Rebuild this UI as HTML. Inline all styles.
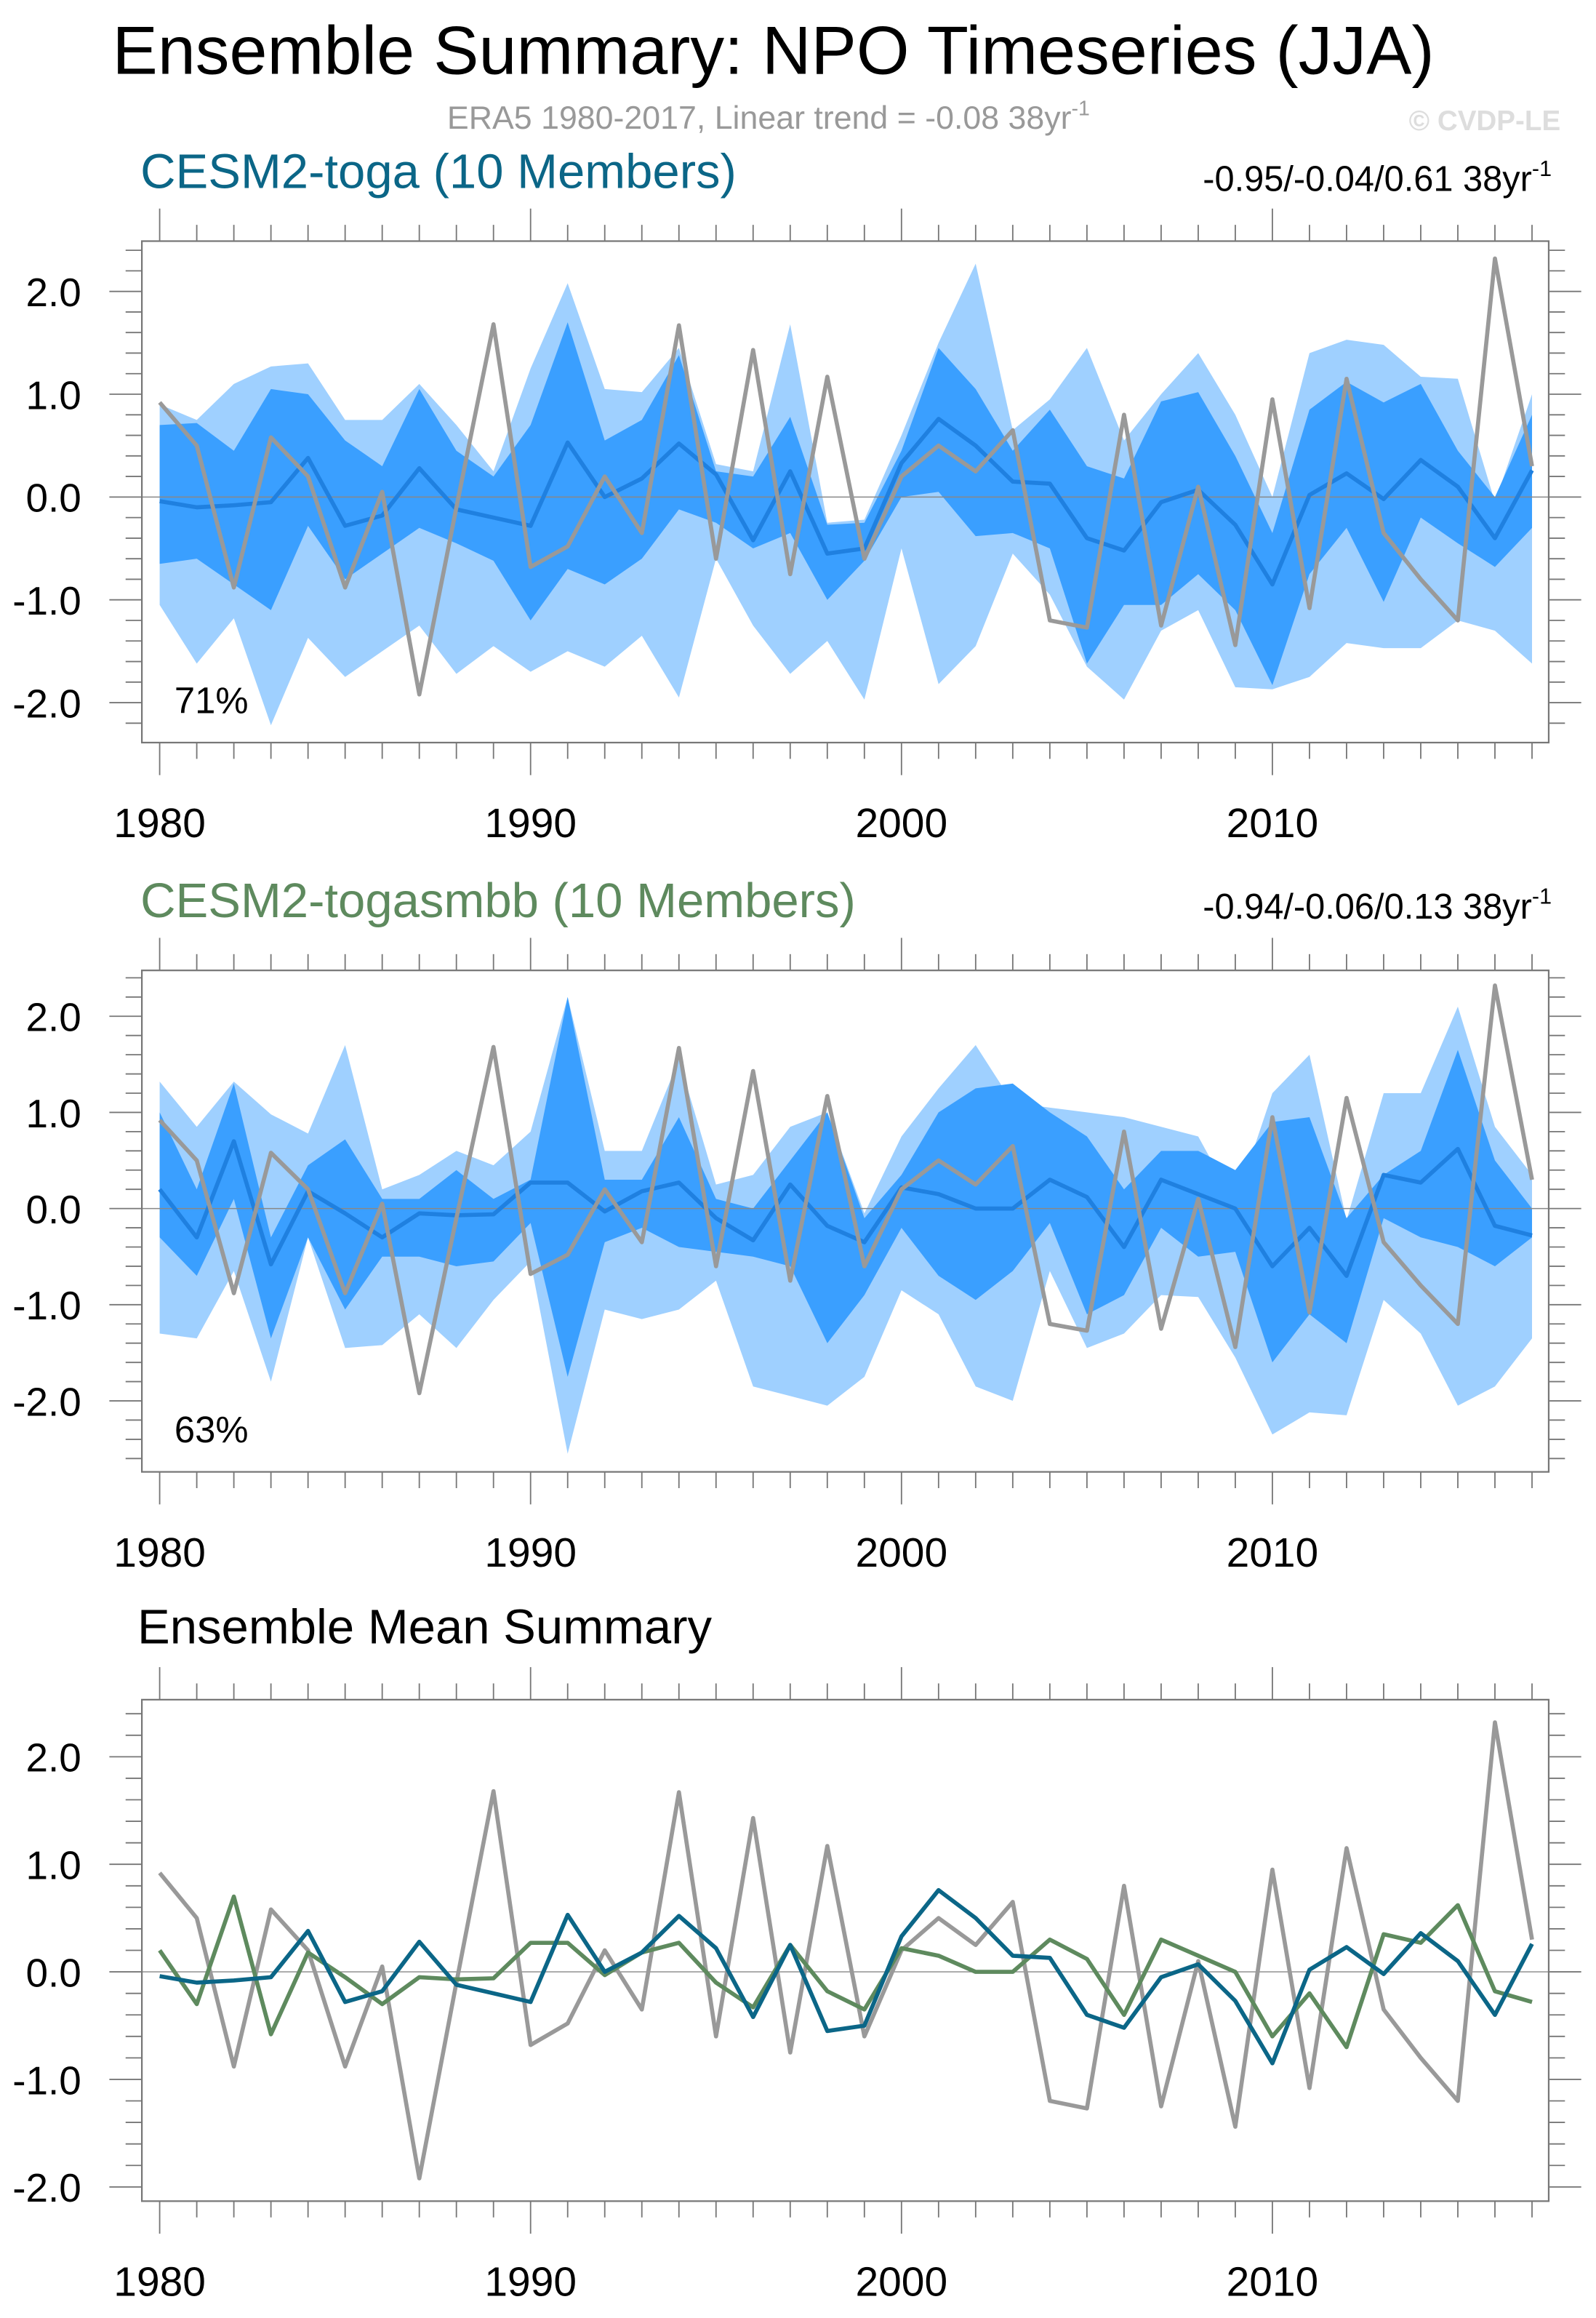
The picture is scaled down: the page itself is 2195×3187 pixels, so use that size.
<!DOCTYPE html>
<html><head><meta charset="utf-8"><style>
html,body{margin:0;padding:0;background:#fff}
svg{display:block}
text{font-family:"Liberation Sans",sans-serif}
</style></head><body>
<svg id="fig" width="2195" height="3187" viewBox="0 0 1080 1567" preserveAspectRatio="none" xmlns="http://www.w3.org/2000/svg">
<text x="76" y="50" font-size="46">Ensemble Summary: NPO Timeseries (JJA)</text>
<text x="520" y="87" font-size="22" fill="#999" text-anchor="middle">ERA5 1980-2017, Linear trend = -0.08 38yr<tspan dy="-9" font-size="14">-1</tspan></text>
<text x="1056" y="88" font-size="19" fill="#ddd" font-weight="bold" text-anchor="end">© CVDP-LE</text>
<text x="95" y="127" font-size="33" fill="#0b6687">CESM2-toga (10 Members)</text>
<text x="1050" y="129" font-size="24" text-anchor="end">-0.95/-0.04/0.61 38yr<tspan dy="-10" font-size="15">-1</tspan></text>
<text x="95" y="620" font-size="33" fill="#5e8a5e">CESM2-togasmbb (10 Members)</text>
<text x="1050" y="621" font-size="24" text-anchor="end">-0.94/-0.06/0.13 38yr<tspan dy="-10" font-size="15">-1</tspan></text>
<text x="93" y="1111" font-size="33">Ensemble Mean Summary</text>
</svg>
<script>
const years = [];
for (let y = 1980; y <= 2017; y++) years.push(y);
const era5 = [0.92,0.5,-0.88,0.58,0.2,-0.88,0.05,-1.92,-0.1,1.68,-0.68,-0.48,0.2,-0.35,1.67,-0.6,1.43,-0.75,1.17,-0.6,0.2,0.5,0.25,0.65,-1.2,-1.27,0.8,-1.25,0.1,-1.44,0.95,-1.08,1.15,-0.35,-0.8,-1.2,2.32,0.3];
const togaMean = [-0.04,-0.1,-0.08,-0.05,0.38,-0.28,-0.18,0.28,-0.12,-0.2,-0.28,0.53,0.0,0.18,0.52,0.22,-0.42,0.25,-0.55,-0.5,0.33,0.76,0.5,0.15,0.13,-0.4,-0.52,-0.05,0.07,-0.27,-0.85,0.02,0.23,-0.02,0.36,0.1,-0.4,0.26];
const togaMax = [0.9,0.75,1.1,1.27,1.3,0.75,0.75,1.1,0.7,0.25,1.25,2.08,1.05,1.02,1.45,0.32,0.25,1.68,-0.25,-0.22,0.6,1.5,2.27,0.65,0.95,1.45,0.55,1.0,1.4,0.8,0.0,1.4,1.53,1.48,1.17,1.15,-0.05,1.0];
const togaMin = [-1.05,-1.62,-1.18,-2.22,-1.37,-1.75,-1.5,-1.25,-1.72,-1.45,-1.7,-1.5,-1.65,-1.35,-1.95,-0.6,-1.25,-1.72,-1.4,-1.97,-0.5,-1.82,-1.45,-0.55,-0.95,-1.65,-1.97,-1.3,-1.1,-1.85,-1.87,-1.75,-1.42,-1.47,-1.47,-1.2,-1.3,-1.62];
const togaQ3 = [0.7,0.72,0.45,1.05,1.0,0.55,0.3,1.05,0.45,0.2,0.7,1.7,0.55,0.75,1.38,0.25,0.2,0.78,-0.27,-0.25,0.45,1.45,1.05,0.45,0.85,0.3,0.18,0.93,1.02,0.4,-0.35,0.85,1.12,0.92,1.1,0.45,0.0,0.8];
const togaQ1 = [-0.65,-0.6,-0.85,-1.1,-0.28,-0.8,-0.55,-0.3,-0.45,-0.62,-1.2,-0.7,-0.85,-0.6,-0.12,-0.25,-0.5,-0.35,-1.0,-0.62,0.0,0.05,-0.38,-0.35,-0.5,-1.62,-1.05,-1.05,-0.75,-1.1,-1.83,-0.75,-0.3,-1.02,-0.2,-0.45,-0.68,-0.3];
const smbbMean = [0.2,-0.3,0.7,-0.58,0.18,-0.05,-0.3,-0.05,-0.07,-0.06,0.27,0.27,-0.03,0.18,0.27,-0.1,-0.33,0.25,-0.18,-0.35,0.22,0.15,0.0,0.0,0.3,0.12,-0.4,0.3,0.15,0.0,-0.6,-0.2,-0.7,0.35,0.27,0.62,-0.18,-0.28];
const smbbMax = [1.32,0.85,1.32,0.98,0.78,1.7,0.2,0.35,0.6,0.45,0.8,2.2,0.6,0.6,1.55,0.25,0.35,0.85,1.0,-0.05,0.75,1.25,1.7,1.1,1.05,1.0,0.95,0.85,0.75,0.05,1.2,1.6,-0.12,1.2,1.2,2.1,0.85,0.35];
const smbbMin = [-1.3,-1.35,-0.65,-1.8,-0.3,-1.45,-1.42,-1.1,-1.45,-0.95,-0.55,-2.55,-1.05,-1.15,-1.05,-0.75,-1.85,-1.95,-2.05,-1.75,-0.85,-1.1,-1.85,-2.0,-0.65,-1.45,-1.3,-0.9,-0.92,-1.55,-2.35,-2.12,-2.15,-0.95,-1.3,-2.05,-1.85,-1.35];
const smbbQ3 = [1.0,0.2,1.3,-0.3,0.45,0.72,0.1,0.1,0.4,0.1,0.3,2.2,0.3,0.3,0.95,0.1,0.0,0.5,1.0,-0.1,0.35,1.0,1.25,1.3,1.0,0.75,0.2,0.6,0.6,0.4,0.9,0.95,-0.1,0.35,0.6,1.65,0.5,0.0];
const smbbQ1 = [-0.3,-0.7,0.1,-1.35,-0.3,-1.05,-0.5,-0.5,-0.6,-0.55,-0.15,-1.75,-0.35,-0.2,-0.4,-0.45,-0.5,-0.6,-1.4,-0.9,-0.2,-0.7,-0.95,-0.65,-0.15,-1.1,-0.9,-0.2,-0.5,-0.45,-1.6,-1.1,-1.4,-0.1,-0.3,-0.4,-0.6,-0.3];
const yTickLabels = ["-2.0","-1.0","0.0","1.0","2.0"];
const yTickValues = [-2,-1,0,1,2];
const xTickYears = [1980,1990,2000,2010];

const NS = "http://www.w3.org/2000/svg";
const svg = document.getElementById('fig');
const X0 = 96, X1 = 1048, YR0 = 1979.52, YR1 = 2017.45;
function xs(yr){ return X0 + (yr - YR0) / (YR1 - YR0) * (X1 - X0); }
function mk(tag, attrs, parent){ const e = document.createElementNS(NS, tag); for (const k in attrs) e.setAttribute(k, attrs[k]); (parent||svg).appendChild(e); return e; }

function panel(id, top, bot, zeroY, ppu, pct, pctY, labY){
  const g = mk('g', {});
  
  
  const ys = v => zeroY - v * ppu;
  return {g, ys, top, bot, pct, pctY, labY};
}
function band(P, hi, lo, color, name){
  let d = '';
  years.forEach((y,i)=>{ d += (i?'L':'M') + xs(y).toFixed(2) + ' ' + P.ys(hi[i]).toFixed(2); });
  for (let i = years.length-1; i >= 0; i--) d += 'L' + xs(years[i]).toFixed(2) + ' ' + P.ys(lo[i]).toFixed(2);
  const p = mk('path', {d: d + 'Z', fill: color}, P.g);
  
  
}
function line(P, vals, color, w, name){
  const pts = years.map((y,i)=> xs(y).toFixed(2) + ',' + P.ys(vals[i]).toFixed(2)).join(' ');
  const p = mk('polyline', {points: pts, fill: 'none', stroke: color, 'stroke-width': w, 'stroke-linejoin': 'round'}, P.g);
  
  
}
function axes(P){
  const g = P.g;
  mk('line', {x1: X0, x2: X1, y1: P.ys(0), y2: P.ys(0), stroke: '#888', 'stroke-width': 0.7}, g);
  const box = mk('rect', {x: X0, y: P.top, width: X1-X0, height: P.bot-P.top, fill: 'none', stroke: '#777', 'stroke-width': 1.1}, g);
  
  
  for (let k = -30; k <= 30; k++){
    const v = k * 0.2, y = P.ys(v);
    if (y < P.top - 0.5 || y > P.bot + 0.5) continue;
    const major = (k % 5 === 0);
    const L = major ? 22 : 11;
    mk('line', {x1: X0-L, x2: X0, y1: y, y2: y, stroke: '#777', 'stroke-width': 0.9}, g);
    mk('line', {x1: X1, x2: X1+L, y1: y, y2: y, stroke: '#777', 'stroke-width': 0.9}, g);
  }
  yTickValues.forEach((v,i)=>{
    const y = P.ys(v);
    if (y < P.top || y > P.bot) return;
    const t = mk('text', {x: 55, y: y + 10, 'font-size': 27, 'text-anchor': 'end'}, g);
    t.textContent = yTickLabels[i];
    
    
  });
  years.forEach(yr=>{
    const x = xs(yr), major = (yr % 10 === 0), L = major ? 22 : 11;
    mk('line', {x1: x, x2: x, y1: P.bot, y2: P.bot + L, stroke: '#777', 'stroke-width': 0.9}, g);
    mk('line', {x1: x, x2: x, y1: P.top - L, y2: P.top, stroke: '#777', 'stroke-width': 0.9}, g);
  });
  xTickYears.forEach(yr=>{
    const t = mk('text', {x: xs(yr), y: P.labY, 'font-size': 28, 'text-anchor': 'middle'}, g);
    t.textContent = yr;
    
    
  });
  if (P.pct){
    const t = mk('text', {x: 118, y: P.pctY, 'font-size': 25}, g);
    t.textContent = P.pct;
    
    
  }
}

const P1 = panel('panel-cesm2-toga', 163, 502, 336, 69.5, '71%', 482, 566);
band(P1, togaMax, togaMin, '#9fd0ff', 'toga-range-band');
band(P1, togaQ3, togaQ1, '#3a9fff', 'toga-iqr-band');
axes(P1);
line(P1, togaMean, '#1f80e0', 2.8, 'toga-mean-line');
line(P1, era5, '#999', 2.8, 'era5-line');

const P2 = panel('panel-cesm2-togasmbb', 656, 995, 817, 65, '63%', 975, 1059);
band(P2, smbbMax, smbbMin, '#9fd0ff', 'togasmbb-range-band');
band(P2, smbbQ3, smbbQ1, '#3a9fff', 'togasmbb-iqr-band');
axes(P2);
line(P2, smbbMean, '#1f80e0', 2.8, 'togasmbb-mean-line');
line(P2, era5, '#999', 2.8, 'era5-line');

const P3 = panel('panel-ensemble-mean', 1149, 1488, 1333, 72.7, '', 0, 1552);
axes(P3);
line(P3, era5, '#999', 2.8, 'era5-line');
line(P3, smbbMean, '#5e8a5e', 2.8, 'togasmbb-mean-line');
line(P3, togaMean, '#0b6687', 2.8, 'toga-mean-line');
</script>
</body></html>
